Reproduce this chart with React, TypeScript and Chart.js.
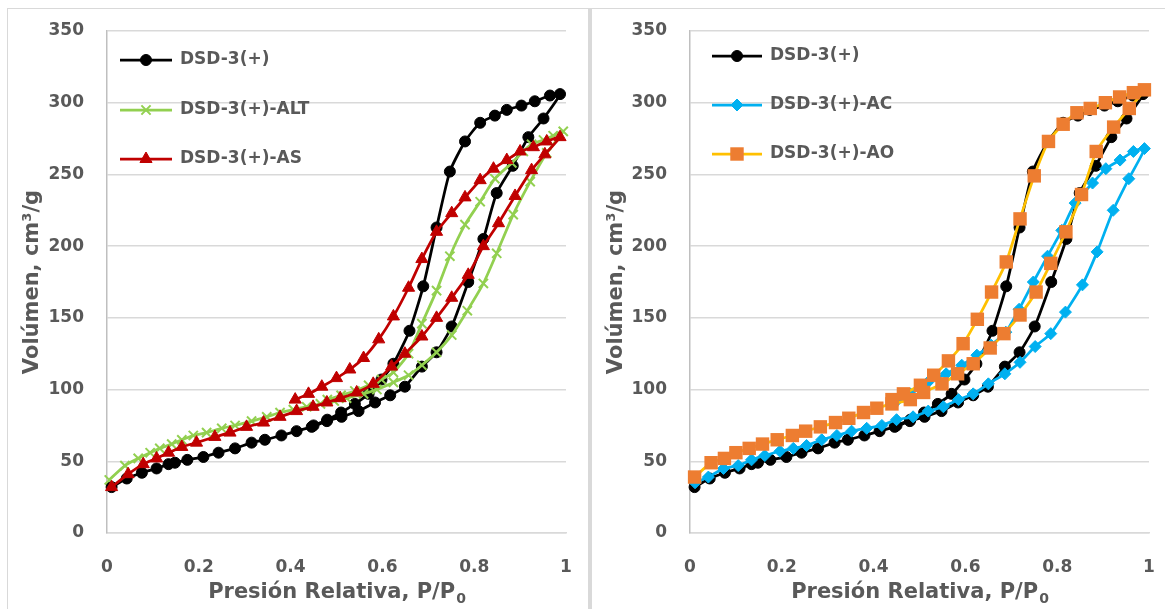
import React, { useEffect, useRef } from "react";
import { Chart, registerables } from "chart.js";
import { drawPoint } from "chart.js/helpers";

Chart.register(...registerables);

// ---------- Data (P/P0 and volume, adsorption followed by desorption) ----------
const dsdP = [0.01, 0.043, 0.076, 0.108, 0.134, 0.148, 0.175, 0.21, 0.243, 0.279, 0.315, 0.344, 0.38, 0.413, 0.446, 0.479, 0.511, 0.548, 0.584, 0.617, 0.649, 0.686, 0.718, 0.751, 0.787, 0.82, 0.849, 0.884, 0.918, 0.951, 0.987,
  0.965, 0.932, 0.903, 0.871, 0.845, 0.813, 0.78, 0.747, 0.718, 0.689, 0.659, 0.624, 0.598, 0.57, 0.54, 0.51, 0.48, 0.45];
const dsdV = [32, 38, 42, 45, 48, 49, 51, 53, 56, 59, 63, 65, 68, 71, 74, 78, 81, 85, 91, 96, 102, 116, 126, 144, 175, 205, 237, 256, 276, 289, 306,
  305, 301, 298, 295, 291, 286, 273, 252, 213, 172, 141, 118, 107, 97, 90, 84, 79, 75];

const altP = [0.005, 0.039, 0.068, 0.094, 0.115, 0.141, 0.163, 0.188, 0.217, 0.25, 0.279, 0.315, 0.348, 0.377, 0.406, 0.435, 0.465, 0.495, 0.522, 0.559, 0.588, 0.624, 0.657, 0.686, 0.718, 0.751, 0.785, 0.82, 0.849, 0.885, 0.922, 0.958, 0.994,
  0.972, 0.951, 0.925, 0.907, 0.882, 0.845, 0.813, 0.78, 0.747, 0.718, 0.686, 0.657, 0.624, 0.598, 0.57, 0.54, 0.51, 0.48];
const altV = [37, 47, 52, 56, 59, 62, 65, 68, 70, 73, 75, 78, 81, 84, 86, 88, 90, 92, 94, 97, 100, 105, 110, 117, 126, 138, 155, 174, 195, 222, 245, 265, 280,
  277, 274, 271, 266, 258, 247, 231, 215, 193, 169, 146, 125, 112, 107, 103, 99, 96, 93];

const asP = [0.01, 0.046, 0.079, 0.108, 0.134, 0.163, 0.195, 0.235, 0.268, 0.304, 0.341, 0.377, 0.413, 0.449, 0.479, 0.508, 0.544, 0.58, 0.62, 0.649, 0.686, 0.718, 0.751, 0.787, 0.82, 0.853, 0.889, 0.925, 0.954, 0.987,
  0.958, 0.929, 0.9, 0.871, 0.842, 0.813, 0.78, 0.751, 0.718, 0.686, 0.657, 0.624, 0.592, 0.559, 0.529, 0.5, 0.468, 0.439, 0.41];
const asV = [32, 41, 48, 52, 56, 60, 63, 67, 70, 74, 77, 81, 85, 88, 91, 94, 98, 104, 116, 125, 137, 150, 164, 180, 200, 216, 235, 253, 264, 276,
  273, 269, 266, 260, 254, 246, 234, 223, 210, 191, 171, 151, 135, 122, 114, 108, 102, 97, 93];

const acP = [0.011, 0.04, 0.073, 0.105, 0.134, 0.163, 0.196, 0.225, 0.254, 0.287, 0.32, 0.352, 0.385, 0.418, 0.45, 0.486, 0.519, 0.552, 0.585, 0.617, 0.65, 0.686, 0.719, 0.752, 0.786, 0.818, 0.855, 0.887, 0.922, 0.956, 0.99,
  0.966, 0.937, 0.906, 0.877, 0.839, 0.81, 0.779, 0.748, 0.717, 0.688, 0.656, 0.625, 0.592, 0.558, 0.518, 0.48, 0.45];
const acV = [35, 39, 45, 47, 51, 54, 57, 59, 61, 65, 68, 71, 73, 75, 79, 81, 85, 88, 93, 97, 104, 111, 119, 130, 139, 154, 173, 196, 225, 247, 268,
  266, 260, 254, 244, 230, 211, 193, 175, 156, 140, 131, 124, 117, 111, 105, 97, 92];

const aoP = [0.01, 0.046, 0.075, 0.1, 0.129, 0.158, 0.19, 0.223, 0.252, 0.284, 0.317, 0.346, 0.378, 0.407, 0.44, 0.48, 0.509, 0.549, 0.583, 0.617, 0.654, 0.684, 0.719, 0.754, 0.786, 0.819, 0.853, 0.885, 0.923, 0.957, 0.99,
  0.966, 0.936, 0.905, 0.872, 0.843, 0.813, 0.781, 0.75, 0.719, 0.689, 0.657, 0.626, 0.595, 0.563, 0.531, 0.502, 0.465, 0.44];
const aoV = [39, 49, 52, 56, 59, 62, 65, 68, 71, 74, 77, 80, 84, 87, 90, 93, 98, 104, 111, 118, 129, 139, 152, 168, 188, 210, 236, 266, 283, 296, 309,
  307, 304, 300, 296, 293, 285, 273, 249, 219, 189, 168, 149, 132, 120, 110, 103, 97, 93];

const xTicks = [0, 0.2, 0.4, 0.6, 0.8, 1];
const yTicks = [0, 50, 100, 150, 200, 250, 300, 350];

const xTitleMain = "Presión Relativa, P/P";
const xTitleSub = "0";
const yTitle = "Volúmen, cm³/g";

const TEXT = "#595959";
const FONT = "'DejaVu Sans', sans-serif";

const zip = (xs: number[], ys: number[]) => xs.map((x, i) => ({ x, y: ys[i] }));

type SeriesDef = {
  label: string;
  p: number[];
  v: number[];
  line: string;
  fill: string;
  style: string;
  radius: number;
  bw: number;
  order: number;
};

const leftSeries: SeriesDef[] = [
  { label: "DSD-3(+)", p: dsdP, v: dsdV, line: "#000000", fill: "#000000", style: "circle", radius: 5.5, bw: 1, order: 2 },
  { label: "DSD-3(+)-ALT", p: altP, v: altV, line: "#92D050", fill: "#92D050", style: "crossRot", radius: 6.5, bw: 2, order: 1 },
  { label: "DSD-3(+)-AS", p: asP, v: asV, line: "#C00000", fill: "#C00000", style: "triangle", radius: 7, bw: 1, order: 0 },
];

const rightSeries: SeriesDef[] = [
  { label: "DSD-3(+)", p: dsdP, v: dsdV, line: "#000000", fill: "#000000", style: "circle", radius: 5.5, bw: 1, order: 2 },
  { label: "DSD-3(+)-AC", p: acP, v: acV, line: "#00B0F0", fill: "#00B0F0", style: "rectRot", radius: 6, bw: 1, order: 1 },
  { label: "DSD-3(+)-AO", p: aoP, v: aoV, line: "#FFC000", fill: "#ED7D31", style: "rect", radius: 9.5, bw: 0, order: 0 },
];

const overlayPlugin = {
  id: "overlay",
  afterDraw(chart: any, _args: any, opts: any) {
    const { ctx, chartArea } = chart;
    const series: SeriesDef[] = opts.series;
    ctx.save();
    // legend
    series.forEach((s, i) => {
      const y = chartArea.top + opts.legendY[i];
      const x0 = chartArea.left + opts.lineX0;
      const x1 = chartArea.left + opts.lineX1;
      ctx.strokeStyle = s.line;
      ctx.lineWidth = 2.75;
      ctx.beginPath();
      ctx.moveTo(x0, y);
      ctx.lineTo(x1, y);
      ctx.stroke();
      ctx.fillStyle = s.fill;
      ctx.strokeStyle = s.fill;
      ctx.lineWidth = s.bw;
      drawPoint(ctx, { pointStyle: s.style, radius: s.radius, borderWidth: s.bw, rotation: 0 } as any, (x0 + x1) / 2, y);
      ctx.fillStyle = TEXT;
      ctx.font = `bold 17px ${FONT}`;
      ctx.textAlign = "left";
      ctx.textBaseline = "middle";
      ctx.fillText(s.label, chartArea.left + opts.textX, y);
    });
    // x title with subscript
    ctx.fillStyle = TEXT;
    const mainFont = `bold 21px ${FONT}`;
    const subFont = `bold 14px ${FONT}`;
    ctx.font = mainFont;
    const w1 = ctx.measureText(xTitleMain).width;
    ctx.font = subFont;
    const w2 = ctx.measureText(xTitleSub).width;
    const cx = (chartArea.left + chartArea.right) / 2;
    const startX = cx - (w1 + w2) / 2;
    const base = chartArea.bottom + opts.titleBase;
    ctx.textAlign = "left";
    ctx.textBaseline = "alphabetic";
    ctx.font = mainFont;
    ctx.fillText(xTitleMain, startX, base);
    ctx.font = subFont;
    ctx.fillText(xTitleSub, startX + w1 + 1, base + 5);
    ctx.restore();
  },
};

const zeroPad = (scale: any) => {
  scale.paddingTop = 0;
  scale.paddingBottom = 0;
  scale.paddingLeft = 0;
  scale.paddingRight = 0;
};

function makeConfig(series: SeriesDef[], yWidth: number, padRight: number, legend: any): any {
  return {
    type: "scatter",
    data: {
      datasets: series.map((s) => ({
        label: s.label,
        data: zip(s.p, s.v),
        showLine: true,
        borderColor: s.line,
        borderWidth: 2.75,
        tension: 0.2,
        pointStyle: s.style,
        pointRadius: s.radius,
        pointHoverRadius: s.radius,
        pointBackgroundColor: s.fill,
        pointBorderColor: s.fill,
        pointBorderWidth: s.bw,
        order: s.order,
        clip: false,
      })),
    },
    options: {
      responsive: false,
      animation: false,
      events: [],
      layout: { padding: { left: 0, right: padRight, top: 22, bottom: 0 } },
      plugins: {
        legend: { display: false },
        tooltip: { enabled: false },
        overlay: { series, ...legend, titleBase: 65 },
      },
      scales: {
        x: {
          type: "linear",
          min: 0,
          max: 1,
          afterBuildTicks: (scale: any) => {
            scale.ticks = xTicks.map((v) => ({ value: v }));
          },
          afterFit: (scale: any) => {
            scale.height = 76;
            zeroPad(scale);
          },
          grid: { display: false, drawTicks: false },
          border: { display: true, color: "#d9d9d9", width: 1.5 },
          ticks: {
            padding: 24,
            color: TEXT,
            font: { family: FONT, size: 17, weight: "bold" },
            maxRotation: 0,
            callback: (v: any) => String(v),
          },
        },
        y: {
          type: "linear",
          min: 0,
          max: 350,
          afterBuildTicks: (scale: any) => {
            scale.ticks = yTicks.map((v) => ({ value: v }));
          },
          afterFit: (scale: any) => {
            scale.width = yWidth;
            zeroPad(scale);
          },
          grid: { color: "#d9d9d9", lineWidth: 1.5, drawTicks: false },
          border: { display: true, color: "#bfbfbf", width: 1.5 },
          ticks: {
            padding: 23,
            color: TEXT,
            font: { family: FONT, size: 17, weight: "bold" },
            callback: (v: any) => String(v),
          },
          title: {
            display: true,
            text: yTitle,
            color: TEXT,
            font: { family: FONT, size: 21, weight: "bold" },
            padding: { top: 12, bottom: 0 },
          },
        },
      },
    },
    plugins: [overlayPlugin],
  };
}

function ChartCanvas({ config, width, height }: { config: any; width: number; height: number }) {
  const ref = useRef<HTMLCanvasElement | null>(null);
  useEffect(() => {
    if (!ref.current) return;
    const chart = new Chart(ref.current, config);
    return () => chart.destroy();
  }, [config]);
  return <canvas ref={ref} width={width} height={height} style={{ display: "block", width, height }} />;
}

const leftConfig = makeConfig(leftSeries, 99, 22, {
  legendY: [29, 79, 128],
  lineX0: 13,
  lineX1: 65,
  textX: 73,
});
const rightConfig = makeConfig(rightSeries, 98, 16, {
  legendY: [25, 74, 123],
  lineX0: 22,
  lineX1: 72,
  textX: 80,
});

export default function App() {
  return (
    <div>
      <div style={{ position: "absolute", left: 7, top: 8, width: 580, height: 601, borderLeft: "1px solid #d9d9d9", borderTop: "1px solid #d9d9d9", background: "#fff" }} />
      <div style={{ position: "absolute", left: 588, top: 8, width: 4, height: 601, background: "#d9d9d9" }} />
      <div style={{ position: "absolute", left: 592, top: 8, width: 573, height: 601, borderTop: "1px solid #d9d9d9", background: "#fff" }} />
      <div style={{ position: "absolute", left: 8, top: 9 }}>
        <ChartCanvas config={leftConfig} width={580} height={600} />
      </div>
      <div style={{ position: "absolute", left: 592, top: 9 }}>
        <ChartCanvas config={rightConfig} width={573} height={600} />
      </div>
    </div>
  );
}
